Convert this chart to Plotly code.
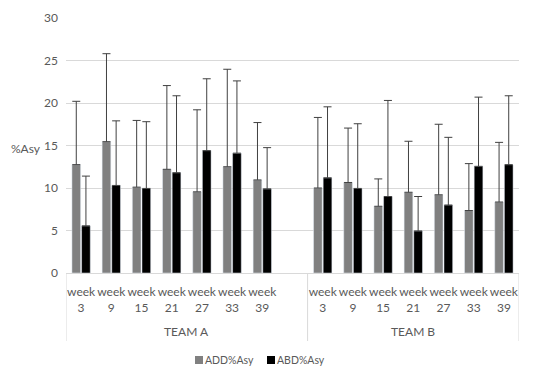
import plotly.graph_objects as go

teams = ["TEAM A"] * 8 + ["TEAM B"] * 7
weeks = ["week<br>3", "week<br>9", "week<br>15", "week<br>21", "week<br>27", "week<br>33", "week<br>39", "",
         "week<br>3", "week<br>9", "week<br>15", "week<br>21", "week<br>27", "week<br>33", "week<br>39"]

series_names = ["ADD%Asy", "ABD%Asy"]
series_colors = ["#808080", "#000000"]

add_mean = [12.75, 15.45, 10.1, 12.2, 9.55, 12.5, 10.95, None,
            10.0, 10.65, 7.85, 9.5, 9.2, 7.35, 8.35]
add_upper = [20.2, 25.8, 17.95, 22.05, 19.2, 23.97, 17.7, None,
             18.3, 17.05, 11.07, 15.5, 17.5, 12.87, 15.37]
abd_mean = [5.55, 10.3, 9.95, 11.8, 14.4, 14.1, 9.9, None,
            11.2, 9.95, 9.0, 4.95, 8.0, 12.55, 12.75]
abd_upper = [11.4, 17.9, 17.8, 20.85, 22.85, 22.6, 14.75, None,
             19.55, 17.56, 20.3, 9.0, 15.96, 20.69, 20.85]

def plus(means, uppers):
    return [None if m is None else u - m for m, u in zip(means, uppers)]

xpos = list(range(len(weeks)))
err_color = "#404040"
txt = "#595959"
fig = go.Figure()
for name, color, m, u in zip(series_names, series_colors, [add_mean, abd_mean], [add_upper, abd_upper]):
    fig.add_trace(go.Bar(
        name=name, x=xpos, y=m, marker_color=color, showlegend=False,
        error_y=dict(type="data", symmetric=False, array=plus(m, u),
                     arrayminus=[0] * len(m), color=err_color, thickness=1, width=4),
    ))

# layout geometry (paper px): plot area
L, T, W, H = 58, 10, 453, 255

def xf(px):  # screen x -> paper fraction (page adds 8px offset)
    return (px - 8 - L) / W

def yf(py):
    return (T + H - (py - 8)) / H

# group labels and dividers
groups = []
for i, t in enumerate(teams):
    if not groups or groups[-1][0] != t:
        groups.append([t, i, i])
    else:
        groups[-1][2] = i

annotations = [dict(text="%Asy", xref="paper", yref="paper", x=xf(9), y=yf(148),
                    xanchor="left", yanchor="middle", showarrow=False,
                    font=dict(size=12, color=txt))]
shapes = []
for name, a, b in groups:
    annotations.append(dict(text=name, x=(a + b) / 2, xref="x", y=yf(331), yref="paper",
                            showarrow=False, xanchor="center", yanchor="middle",
                            font=dict(size=12, color=txt)))
bounds = [groups[0][1] - 0.5] + [g[2] + 0.5 for g in groups]
for bx in bounds:
    shapes.append(dict(type="line", x0=bx, x1=bx, xref="x", y0=0, y1=yf(341), yref="paper",
                       line=dict(color="#d9d9d9", width=1)))

# manual legend
leg_x = [195, 267]
for (lx, name, color) in zip(leg_x, series_names, series_colors):
    shapes.append(dict(type="rect", xref="paper", yref="paper",
                       x0=xf(lx), x1=xf(lx + 8), y0=yf(356), y1=yf(364),
                       line=dict(width=0), fillcolor=color))
    annotations.append(dict(text=name, xref="paper", yref="paper", x=xf(lx + 8), y=yf(359.5),
                            xanchor="left", yanchor="middle", showarrow=False,
                            font=dict(size=10.5, color=txt)))

fig.update_layout(
    width=550, height=382,
    margin=dict(l=L, r=550 - L - W, t=T, b=382 - T - H),
    paper_bgcolor="white", plot_bgcolor="white",
    barmode="group", bargap=0.36, bargroupgap=0.1,
    font=dict(family="Lato", size=12, color=txt),
    showlegend=False,
    xaxis=dict(
        range=[-0.5, len(weeks) - 0.5], tickmode="array", tickvals=xpos, ticktext=weeks,
        tickangle=0, showline=True, linecolor="#d9d9d9", linewidth=1,
        showgrid=False, zeroline=False, ticks="", automargin=False, ticklabelstandoff=8,
        tickfont=dict(size=12, color=txt),
    ),
    yaxis=dict(
        range=[0, 30], dtick=5, showgrid=True, gridcolor="#d9d9d9", gridwidth=1,
        zeroline=False, showline=False, ticks="", automargin=False, ticklabelstandoff=7,
        tickfont=dict(size=12, color=txt),
    ),
    annotations=annotations,
    shapes=shapes,
)

fig.write_html("out.html")
